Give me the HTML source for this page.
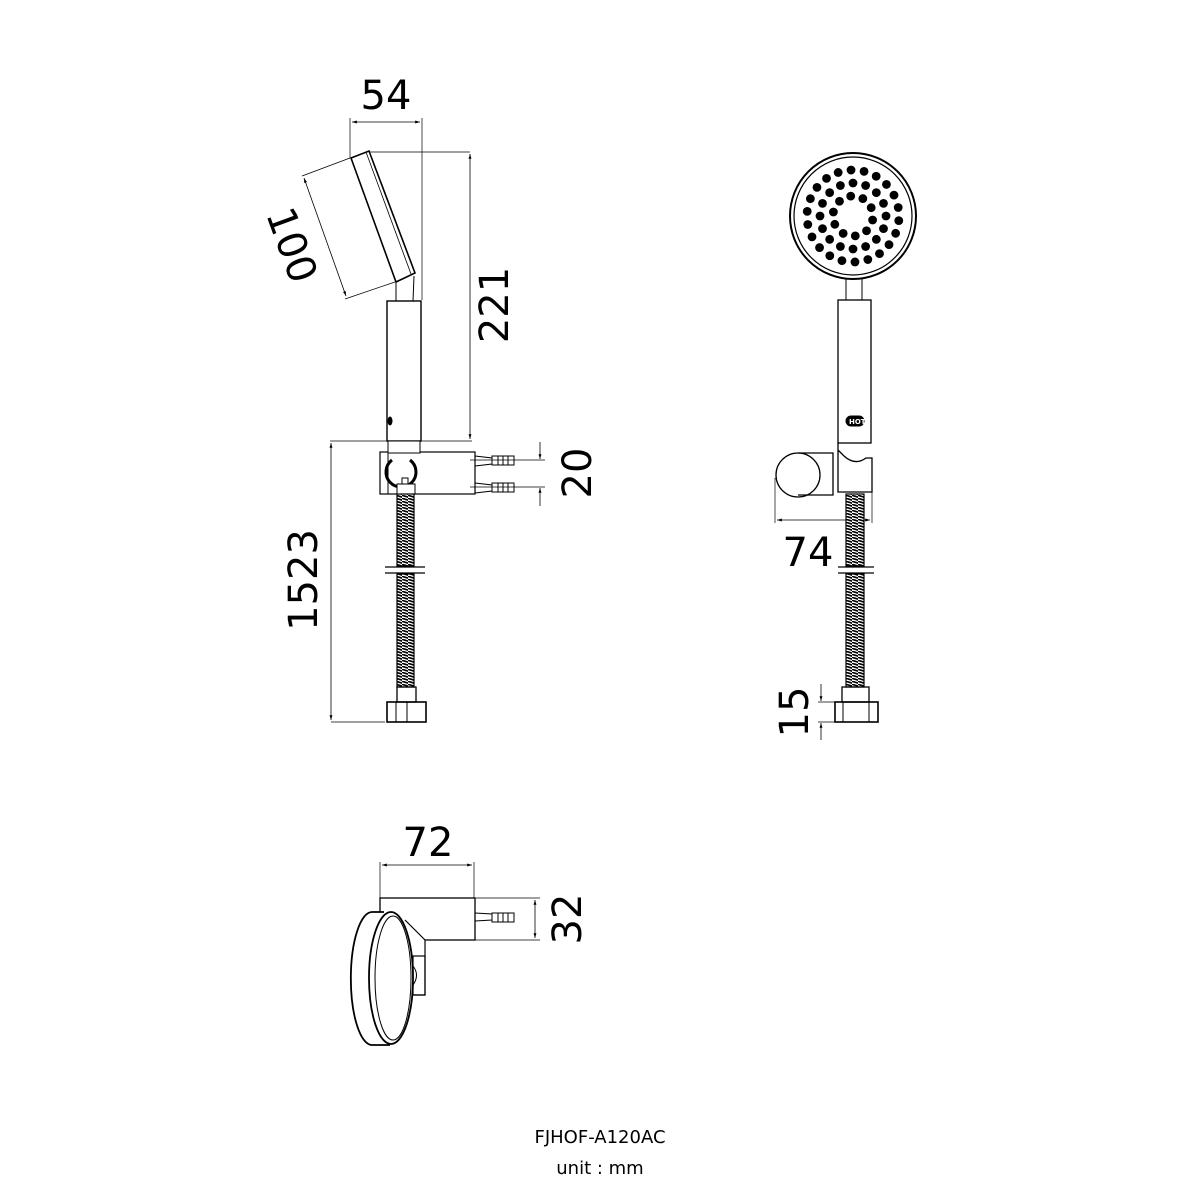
<!DOCTYPE html>
<html><head><meta charset="utf-8"><style>
html,body{margin:0;padding:0;background:#fff}
svg{display:block}
.t{font-family:"DejaVu Sans","Liberation Sans",sans-serif;fill:#000}
</style></head><body>
<svg id="s" width="1200" height="1200" viewBox="0 0 1200 1200" xmlns="http://www.w3.org/2000/svg">
<defs>
<marker id="a" viewBox="0 0 10 10" refX="10" refY="5" markerWidth="9" markerHeight="6" orient="auto-start-reverse"><path d="M0,2 L10,5 L0,8 z" fill="#000"/></marker>
<pattern id="hose" width="6" height="3" patternUnits="userSpaceOnUse"><rect width="6" height="3" fill="#fff"/><path d="M-1,0 L7,2.4" stroke="#000" stroke-width="1.7"/></pattern>
</defs>
<g fill="none" stroke="#000" stroke-width="1">
<line x1="350" y1="118" x2="350" y2="158" stroke-width="0.7"/>
<line x1="422" y1="118" x2="422" y2="300" stroke-width="0.7"/>
<line x1="352" y1="122" x2="420" y2="122" marker-start="url(#a)" marker-end="url(#a)" stroke-width="0.8"/>
<line x1="370" y1="152" x2="470" y2="152" stroke-width="0.7"/>
<line x1="330" y1="441" x2="472" y2="441" stroke-width="0.7"/>
<line x1="470" y1="154" x2="470" y2="439" marker-start="url(#a)" marker-end="url(#a)" stroke-width="0.8"/>
<line x1="350" y1="158" x2="302" y2="176" stroke-width="0.7"/>
<line x1="395" y1="282" x2="345" y2="299" stroke-width="0.7"/>
<line x1="304" y1="178" x2="346" y2="296" marker-start="url(#a)" marker-end="url(#a)" stroke-width="0.8"/>
<polygon points="351,158 369,151 415,273 396,282" stroke-width="1.6" fill="#fff"/>
<line x1="366" y1="152" x2="411" y2="274" stroke-width="0.8"/>
<line x1="396" y1="282" x2="396" y2="301"/><line x1="414" y1="276" x2="413" y2="301"/>
<rect x="387" y="301" width="34" height="140" stroke-width="1.4"/>
<ellipse cx="390" cy="421" rx="2" ry="4" fill="#000"/>
<rect x="380" y="452" width="95" height="42" stroke-width="1.2"/>
<line x1="388" y1="452" x2="388" y2="494"/>
<rect x="388" y="441" width="32" height="12" fill="#fff"/>
<path d="M392,460 A15,15 0 1,0 410,460" stroke-width="3"/>
<rect x="397" y="484" width="18" height="10" fill="#fff"/>
<rect x="402" y="478" width="6" height="6" fill="#fff"/>
<g stroke-width="1"><path d="M475,456 L492,458 L492,464 L475,466"/><rect x="492" y="456" width="22" height="9"/><line x1="498" y1="456" x2="498" y2="465"/><line x1="503" y1="456" x2="503" y2="465"/><line x1="508" y1="456" x2="508" y2="465"/>
<path d="M475,483 L492,485 L492,491 L475,493"/><rect x="492" y="483" width="22" height="9"/><line x1="498" y1="483" x2="498" y2="492"/><line x1="503" y1="483" x2="503" y2="492"/><line x1="508" y1="483" x2="508" y2="492"/></g>
<line x1="470" y1="460" x2="545" y2="460" stroke-width="0.7"/>
<line x1="470" y1="487" x2="545" y2="487" stroke-width="0.7"/>
<line x1="540" y1="442" x2="540" y2="459" marker-end="url(#a)" stroke-width="0.8"/>
<line x1="540" y1="506" x2="540" y2="488" marker-end="url(#a)" stroke-width="0.8"/>
<rect x="397" y="494" width="17" height="72" fill="url(#hose)" stroke-width="1.2"/>
<rect x="397" y="574" width="17" height="113" fill="url(#hose)" stroke-width="1.2"/>
<line x1="385" y1="567" x2="425" y2="567" stroke-width="1.2"/><line x1="385" y1="573" x2="425" y2="573" stroke-width="1.2"/>
<rect x="397" y="687" width="19" height="15" stroke-width="1.3"/>
<rect x="387" y="702" width="39" height="20" stroke-width="1.6"/>
<line x1="396" y1="702" x2="396" y2="722"/><line x1="407" y1="702" x2="407" y2="722"/>
<line x1="331" y1="722" x2="385" y2="722" stroke-width="0.7"/>
<line x1="331" y1="443" x2="331" y2="720" marker-start="url(#a)" marker-end="url(#a)" stroke-width="0.8"/>

<circle cx="853" cy="216" r="63" stroke-width="2"/>
<circle cx="853" cy="216" r="59" stroke-width="1.2"/>
<g id="dots" fill="#000" stroke="none"></g>
<line x1="846" y1="279" x2="846" y2="300"/><line x1="862" y1="279" x2="862" y2="300"/>
<rect x="838" y="300" width="33" height="143" stroke-width="1.3"/>
<rect x="846" y="416" width="18" height="10" rx="5" fill="#000"/>
<circle cx="798" cy="475" r="22" stroke-width="1.3"/>
<path d="M798,453 L833,453 L833,495 L798,495" stroke-width="1.3"/>
<path d="M838,443 L838,492 L872,492 L872,458 L866,458 Q855,466 844,456 L838,450" stroke-width="1.3"/>
<line x1="872" y1="458" x2="872" y2="523" stroke-width="0.7"/>
<line x1="775" y1="478" x2="775" y2="523" stroke-width="0.7"/>
<line x1="777" y1="520" x2="870" y2="520" marker-start="url(#a)" marker-end="url(#a)" stroke-width="0.8"/>
<rect x="846" y="494" width="18" height="72" fill="url(#hose)" stroke-width="1.2"/>
<rect x="846" y="574" width="18" height="113" fill="url(#hose)" stroke-width="1.2"/>
<line x1="838" y1="567" x2="874" y2="567" stroke-width="1.2"/><line x1="838" y1="573" x2="874" y2="573" stroke-width="1.2"/>
<rect x="842" y="687" width="27" height="15" stroke-width="1.3"/>
<rect x="835" y="702" width="43" height="20" stroke-width="1.6"/>
<line x1="843" y1="702" x2="843" y2="722"/><line x1="869" y1="702" x2="869" y2="722"/>
<line x1="818" y1="702" x2="836" y2="702" stroke-width="0.7"/>
<line x1="818" y1="722" x2="836" y2="722" stroke-width="0.7"/>
<line x1="821" y1="684" x2="821" y2="701" marker-end="url(#a)" stroke-width="0.8"/>
<line x1="821" y1="740" x2="821" y2="723" marker-end="url(#a)" stroke-width="0.8"/>

<line x1="380" y1="862" x2="380" y2="898" stroke-width="0.7"/>
<line x1="474" y1="862" x2="474" y2="898" stroke-width="0.7"/>
<line x1="382" y1="865" x2="472" y2="865" marker-start="url(#a)" marker-end="url(#a)" stroke-width="0.8"/>
<rect x="380" y="898" width="95" height="42" stroke-width="1.3"/>
<path d="M475,913 L492,914 L492,920 L475,921" /><rect x="492" y="913" width="22" height="9"/><line x1="498" y1="913" x2="498" y2="922"/><line x1="503" y1="913" x2="503" y2="922"/><line x1="508" y1="913" x2="508" y2="922"/>
<line x1="475" y1="898" x2="540" y2="898" stroke-width="0.7"/>
<line x1="475" y1="940" x2="540" y2="940" stroke-width="0.7"/>
<line x1="535" y1="900" x2="535" y2="938" marker-start="url(#a)" marker-end="url(#a)" stroke-width="0.8"/>
<path d="M405,920 L425,940 L425,995 L412,995" stroke-width="1.2" fill="#fff"/>
<rect x="413" y="956" width="12" height="39" stroke-width="1.2"/>
<path d="M413,966 Q420,975 413,985" stroke-width="1"/>
<path d="M384,912 L372,912 A21,66 0 0,0 372,1045 L390,1045" stroke-width="1.8" fill="#fff"/>
<ellipse cx="391" cy="978" rx="22" ry="66" stroke-width="1.8" fill="#fff"/>
<ellipse cx="393" cy="978" rx="18" ry="62" stroke-width="1"/>
</g>
<g class="t">
<text x="386" y="109" font-size="40" text-anchor="middle">54</text>
<text transform="translate(494,305) rotate(-90)" font-size="40" text-anchor="middle" y="14">221</text>
<text transform="translate(292,245) rotate(70)" font-size="40" text-anchor="middle" y="14">100</text>
<text transform="translate(577,473) rotate(-90)" font-size="40" text-anchor="middle" y="14">20</text>
<text transform="translate(303,580) rotate(-90)" font-size="40" text-anchor="middle" y="14">1523</text>
<text x="808" y="566" font-size="40" text-anchor="middle">74</text>
<text transform="translate(794,712) rotate(-90)" font-size="40" text-anchor="middle" y="14">15</text>
<text x="428" y="856" font-size="40" text-anchor="middle">72</text>
<text transform="translate(567,919) rotate(-90)" font-size="40" text-anchor="middle" y="14">32</text>
<text x="849" y="424" font-size="7" fill="#fff" font-weight="bold">HOT</text>
<text x="600" y="1143" font-size="18" text-anchor="middle">FJHOF-A120AC</text>
<text x="600" y="1174" font-size="18" text-anchor="middle">unit : mm</text>
</g>
</svg>
<script>
var g=document.getElementById('dots'),ns='http://www.w3.org/2000/svg';
[[20,10,0.2],[33,16,0],[46,22,0.1]].forEach(function(r){for(var i=0;i<r[1];i++){var a=2*Math.PI*i/r[1]+r[2];var c=document.createElementNS(ns,'circle');c.setAttribute('cx',853+r[0]*Math.cos(a));c.setAttribute('cy',216+r[0]*Math.sin(a));c.setAttribute('r',4.4);g.appendChild(c);}});
</script>
</body></html>
